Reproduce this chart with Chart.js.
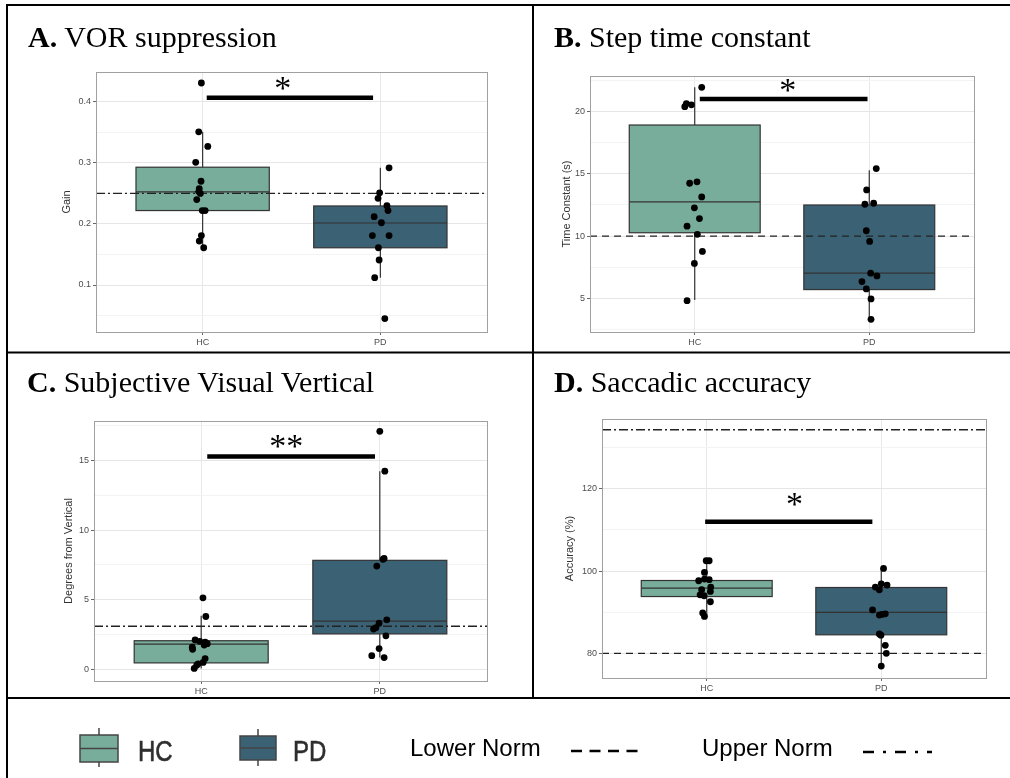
<!DOCTYPE html>
<html>
<head>
<meta charset="utf-8">
<script src="https://cdn.jsdelivr.net/npm/chart.js@4.4.0/dist/chart.umd.min.js"></script>
<style>
  body { margin: 0; background: #fff; }
  #fig { position: relative; width: 1010px; height: 778px; overflow: hidden; background: #fff; }
  #fig canvas { position: absolute; }
  .title {
    position: absolute; white-space: nowrap; color: #000;
    font-family: "Liberation Serif", "Times New Roman", serif;
    font-size: 30px; line-height: 30px;
  }
  .leg {
    position: absolute; white-space: nowrap;
    font-family: "Liberation Sans", Arial, sans-serif;
  }
  .grp { font-size: 30px; line-height: 30px; color: #2e2e2e; transform: scaleX(0.8); transform-origin: left top; -webkit-text-stroke: 0.6px #2e2e2e; }
  .norm { font-size: 24px; line-height: 24px; color: #000; }
</style>
</head>
<body>
<div id="fig">
  <canvas id="frame" width="1010" height="778" style="left:0;top:0"></canvas>
  <canvas id="chartA" width="435" height="295" style="left:60px;top:62px"></canvas>
  <canvas id="chartB" width="422" height="291" style="left:560px;top:66px"></canvas>
  <canvas id="chartC" width="433" height="295" style="left:62px;top:411px"></canvas>
  <canvas id="chartD" width="431" height="294" style="left:563px;top:409px"></canvas>

  <div class="title" style="left:28px;top:22px"><b>A.</b> VOR suppression</div>
  <div class="title" style="left:554px;top:22px"><b>B.</b> Step time constant</div>
  <div class="title" style="left:27px;top:367px"><b>C.</b> Subjective Visual Vertical</div>
  <div class="title" style="left:554px;top:367px"><b>D.</b> Saccadic accuracy</div>

  <div class="leg grp" style="left:138px;top:736px">HC</div>
  <div class="leg grp" style="left:293px;top:736px">PD</div>
  <div class="leg norm" style="left:410px;top:736px">Lower Norm</div>
  <div class="leg norm" style="left:702px;top:736px">Upper Norm</div>
</div>

<script>
const groups = ["HC", "PD"];
const colors = { HC: "#79ad9b", PD: "#3b6175" };

// A. VOR suppression - gain
const vorHC = [0.431, 0.351, 0.327, 0.301, 0.270, 0.258, 0.253, 0.250, 0.240, 0.222, 0.222, 0.181, 0.172, 0.161];
const vorHCJitter = [-0.007, -0.022, 0.029, -0.039, -0.009, -0.019, -0.022, -0.013, -0.033, -0.002, 0.014, -0.007, -0.019, 0.006];
const vorPD = [0.292, 0.251, 0.242, 0.230, 0.222, 0.212, 0.202, 0.181, 0.181, 0.161, 0.141, 0.112, 0.045];
const vorPDJitter = [0.049, -0.004, -0.013, 0.037, 0.043, -0.035, 0.006, -0.045, 0.049, -0.011, -0.007, -0.032, 0.025];
// lower whisker, q1, median, q3, upper whisker
const vorBoxHC = [0.161, 0.222, 0.2525, 0.293, 0.351];
const vorBoxPD = [0.112, 0.161, 0.2016, 0.2295, 0.292];
const vorTicks = [0.1, 0.2, 0.3, 0.4];
const vorMinor = [0.05, 0.15, 0.25, 0.35];
const vorRange = [0.023, 0.449];
const vorUpperNorm = 0.25;
const vorSig = [1.023, 1.959, 0.407];
const vorStar = ["*", 1.451, 0.4044];

// B. Step time constant (s)
const tcHC = [21.96, 20.65, 20.55, 20.4, 14.25, 14.36, 13.15, 12.27, 11.41, 10.8, 10.14, 8.77, 7.8, 4.81];
const tcHCJitter = [0.040, -0.048, -0.019, -0.057, -0.029, 0.013, 0.040, -0.002, 0.027, -0.044, 0.015, 0.044, -0.002, -0.044];
const tcPD = [15.43, 13.71, 12.56, 12.64, 10.43, 9.57, 7.02, 6.8, 6.34, 5.75, 4.95, 3.31];
const tcPDJitter = [0.040, -0.015, -0.025, 0.025, -0.017, 0.002, 0.008, 0.044, -0.042, -0.017, 0.010, 0.010];
const tcBoxHC = [4.86, 10.27, 12.75, 18.93, 21.96];
const tcBoxPD = [3.31, 5.7, 7.02, 12.5, 15.3];
const tcTicks = [5, 10, 15, 20];
const tcMinor = [2.5, 7.5, 12.5, 17.5, 22.5];
const tcRange = [2.29, 22.87];
const tcLowerNorm = 10;
const tcSig = [1.029, 1.99, 21.02];
const tcStar = ["*", 1.533, 20.88];

// C. Subjective visual vertical (degrees from vertical)
const svvHC = [5.14, 3.8, 2.12, 2.02, 1.95, 1.85, 1.75, 1.6, 1.45, 0.78, 0.5, 0.4, 0.3, 0.07];
const svvHCJitter = [0.010, 0.026, -0.034, -0.008, 0.022, 0.034, 0.017, -0.050, -0.048, 0.022, 0.011, -0.017, -0.025, -0.039];
const svvPD = [17.09, 14.23, 7.97, 7.9, 7.42, 3.56, 3.32, 3.0, 2.9, 2.41, 1.5, 0.99, 0.85];
const svvPDJitter = [0.000, 0.028, 0.024, 0.018, -0.017, 0.039, -0.004, -0.022, -0.035, 0.034, -0.004, -0.045, 0.024];
const svvBoxHC = [0.07, 0.47, 1.82, 2.06, 3.85];
const svvBoxPD = [0.85, 2.55, 3.47, 7.83, 14.23];
const svvTicks = [0, 5, 10, 15];
const svvMinor = [2.5, 7.5, 12.5, 17.5];
const svvRange = [-0.83, 17.83];
const svvUpperNorm = 3.1;
const svvSig = [1.034, 1.973, 15.29];
const svvStar = ["**", 1.476, 15.25];

// D. Saccadic accuracy (%)
const accHC = [102.5, 102.5, 99.66, 97.64, 98.05, 97.9, 95.45, 96.1, 95.04, 94.23, 94.0, 92.54, 89.8, 88.98];
const accHCJitter = [-0.003, 0.014, -0.013, -0.046, -0.013, 0.014, -0.029, 0.023, 0.021, -0.038, -0.015, 0.021, -0.023, -0.013];
const accPD = [100.63, 96.9, 96.6, 96.1, 95.45, 90.54, 89.6, 89.45, 89.3, 84.7, 84.4, 81.95, 80.0, 76.9];
const accPDJitter = [0.013, 0.000, 0.033, -0.034, -0.011, -0.050, 0.023, 0.004, -0.011, -0.011, -0.002, 0.023, 0.029, 0.000];
const accBoxHC = [88.98, 93.8, 95.86, 97.7, 102.75];
const accBoxPD = [76.9, 84.5, 89.93, 96.0, 100.63];
const accTicks = [80, 100, 120];
const accMinor = [90, 110, 130];
const accRange = [74.0, 136.96];
const accLowerNorm = 80;
const accUpperNorm = 134.35;
const accSig = [0.991, 1.949, 112];
const accStar = ["*", 1.503, 113.55];

Chart.defaults.font.family = '"Liberation Sans", Arial, sans-serif';
Chart.defaults.animation = false;

function jittered(values, jitter, group) {
  return values.map((v, i) => ({ x: group + jitter[i], y: v }));
}

function hline(y, dash) {
  return {
    data: [{ x: 0.4, y: y }, { x: 2.6, y: y }],
    showLine: true, pointRadius: 0,
    borderColor: "#222", borderWidth: 1.3, borderDash: dash
  };
}

function panelPlugin(boxes, star) {
  return {
    id: "panel",
    beforeDatasetsDraw(chart) {
      const { ctx, scales: { x, y } } = chart;
      ctx.save();
      boxes.forEach((s, i) => {
        const g = i + 1;
        const cx = x.getPixelForValue(g);
        const l = x.getPixelForValue(g - 0.375);
        const r = x.getPixelForValue(g + 0.375);
        ctx.strokeStyle = "#333";
        ctx.lineWidth = 1.2;
        ctx.beginPath();
        ctx.moveTo(cx, y.getPixelForValue(s[0]));
        ctx.lineTo(cx, y.getPixelForValue(s[1]));
        ctx.moveTo(cx, y.getPixelForValue(s[3]));
        ctx.lineTo(cx, y.getPixelForValue(s[4]));
        ctx.stroke();
        const top = y.getPixelForValue(s[3]);
        const bot = y.getPixelForValue(s[1]);
        ctx.fillStyle = colors[groups[i]];
        ctx.fillRect(l, top, r - l, bot - top);
        ctx.strokeRect(l, top, r - l, bot - top);
        const m = y.getPixelForValue(s[2]);
        ctx.beginPath();
        ctx.moveTo(l, m);
        ctx.lineTo(r, m);
        ctx.stroke();
      });
      ctx.restore();
    },
    afterDatasetsDraw(chart) {
      const { ctx, scales: { x, y } } = chart;
      ctx.save();
      ctx.fillStyle = "#000";
      ctx.font = '34px "Liberation Serif", "Times New Roman", serif';
      ctx.textAlign = "center";
      ctx.textBaseline = "alphabetic";
      ctx.fillText(star[0], x.getPixelForValue(star[1]), y.getPixelForValue(star[2]));
      ctx.restore();
    },
    afterDraw(chart) {
      const { ctx, chartArea: a } = chart;
      ctx.save();
      ctx.strokeStyle = "#a0a0a0";
      ctx.lineWidth = 1;
      ctx.strokeRect(Math.round(a.left) + 0.5, Math.round(a.top) + 0.5,
        Math.round(a.right - a.left), Math.round(a.bottom - a.top));
      ctx.restore();
    }
  };
}

function makePanel(id, cfg) {
  const majors = cfg.ticks;
  const allTicks = majors.concat(cfg.minor).sort((a, b) => a - b);
  const isMajor = (v) => majors.some((m) => Math.abs(m - v) < 1e-9);
  const datasets = [
    {
      data: jittered(cfg.hc, cfg.hcJit, 1).concat(jittered(cfg.pd, cfg.pdJit, 2)),
      pointRadius: 3.4, pointBackgroundColor: "#000", pointBorderColor: "#000", pointBorderWidth: 0
    },
    {
      data: [{ x: cfg.sig[0], y: cfg.sig[2] }, { x: cfg.sig[1], y: cfg.sig[2] }],
      showLine: true, pointRadius: 0, borderColor: "#000", borderWidth: 4.5, borderCapStyle: "butt"
    }
  ];
  cfg.norms.forEach((n) => datasets.push(hline(n[0], n[1])));

  new Chart(document.getElementById(id), {
    type: "scatter",
    data: { datasets: datasets },
    plugins: [panelPlugin([cfg.boxHC, cfg.boxPD], cfg.star)],
    options: {
      responsive: false,
      layout: { padding: { top: 10, right: 8, left: 0, bottom: 0 } },
      plugins: { legend: { display: false }, tooltip: { enabled: false } },
      scales: {
        x: {
          type: "linear", min: 0.4, max: 2.6,
          afterBuildTicks: (s) => { s.ticks = [{ value: 1 }, { value: 2 }]; },
          afterFit: (s) => { s.height = 25; },
          ticks: {
            autoSkip: false, maxRotation: 0, padding: 2,
            color: "#4d4d4d", font: { size: 9 },
            callback: (v) => groups[Math.round(v) - 1]
          },
          grid: { color: "#e8e8e8", tickColor: "#666", tickLength: 3, lineWidth: 1 },
          border: { display: false }
        },
        y: {
          type: "linear", min: cfg.range[0], max: cfg.range[1],
          afterBuildTicks: (s) => { s.ticks = allTicks.map((v) => ({ value: v })); },
          afterFit: (s) => { s.width = cfg.yWidth; },
          title: {
            display: true, text: cfg.yTitle, color: "#333",
            font: { size: 11 }, padding: { top: 0, bottom: 0 }
          },
          ticks: {
            autoSkip: false, padding: 2, color: "#4d4d4d", font: { size: 9 },
            callback: (v) => (isMajor(v) ? String(v) : "")
          },
          grid: {
            color: (c) => (isMajor(c.tick.value) ? "#e6e6e6" : "#f3f3f3"),
            tickColor: (c) => (isMajor(c.tick.value) ? "#666" : "rgba(0,0,0,0)"),
            tickLength: 3, lineWidth: 1
          },
          border: { display: false }
        }
      }
    }
  });
}

const dashed = [7, 5];
const dotDash = [9, 3, 2, 3];

makePanel("chartA", {
  hc: vorHC, hcJit: vorHCJitter, pd: vorPD, pdJit: vorPDJitter,
  boxHC: vorBoxHC, boxPD: vorBoxPD, ticks: vorTicks, minor: vorMinor, range: vorRange,
  norms: [[vorUpperNorm, dotDash]], sig: vorSig, star: vorStar,
  yTitle: "Gain", yWidth: 36
});
makePanel("chartB", {
  hc: tcHC, hcJit: tcHCJitter, pd: tcPD, pdJit: tcPDJitter,
  boxHC: tcBoxHC, boxPD: tcBoxPD, ticks: tcTicks, minor: tcMinor, range: tcRange,
  norms: [[tcLowerNorm, dashed]], sig: tcSig, star: tcStar,
  yTitle: "Time Constant (s)", yWidth: 30
});
makePanel("chartC", {
  hc: svvHC, hcJit: svvHCJitter, pd: svvPD, pdJit: svvPDJitter,
  boxHC: svvBoxHC, boxPD: svvBoxPD, ticks: svvTicks, minor: svvMinor, range: svvRange,
  norms: [[svvUpperNorm, dotDash]], sig: svvSig, star: svvStar,
  yTitle: "Degrees from Vertical", yWidth: 32
});
makePanel("chartD", {
  hc: accHC, hcJit: accHCJitter, pd: accPD, pdJit: accPDJitter,
  boxHC: accBoxHC, boxPD: accBoxPD, ticks: accTicks, minor: accMinor, range: accRange,
  norms: [[accLowerNorm, dashed], [accUpperNorm, dotDash]], sig: accSig, star: accStar,
  yTitle: "Accuracy (%)", yWidth: 39
});

// figure frame and legend glyphs
function drawFrame() {
  const ctx = document.getElementById("frame").getContext("2d");
  ctx.strokeStyle = "#000";
  ctx.lineWidth = 2;
  ctx.beginPath();
  ctx.moveTo(6, 5); ctx.lineTo(1010, 5);
  ctx.moveTo(7, 4); ctx.lineTo(7, 778);
  ctx.moveTo(533, 5); ctx.lineTo(533, 698);
  ctx.moveTo(7, 352.5); ctx.lineTo(1010, 352.5);
  ctx.moveTo(7, 698); ctx.lineTo(1010, 698);
  ctx.stroke();

  function legendBox(l, r, t, b, m, wt, wb, fill) {
    const cx = (l + r) / 2;
    ctx.strokeStyle = "#444";
    ctx.lineWidth = 1.5;
    ctx.beginPath();
    ctx.moveTo(cx, wt); ctx.lineTo(cx, t);
    ctx.moveTo(cx, b); ctx.lineTo(cx, wb);
    ctx.stroke();
    ctx.fillStyle = fill;
    ctx.fillRect(l, t, r - l, b - t);
    ctx.strokeRect(l, t, r - l, b - t);
    ctx.beginPath();
    ctx.moveTo(l, m); ctx.lineTo(r, m);
    ctx.stroke();
  }
  legendBox(80, 118, 735, 762, 748.5, 728, 767, colors.HC);
  legendBox(240, 276, 736, 760, 748, 729, 766, colors.PD);

  ctx.strokeStyle = "#000";
  ctx.lineWidth = 2.5;
  ctx.setLineDash([11, 7.5]);
  ctx.beginPath();
  ctx.moveTo(571, 751); ctx.lineTo(638, 751);
  ctx.stroke();
  ctx.setLineDash([11, 9, 3, 9]);
  ctx.beginPath();
  ctx.moveTo(863, 752); ctx.lineTo(932, 752);
  ctx.stroke();
  ctx.setLineDash([]);
}
drawFrame();
</script>
</body>
</html>
